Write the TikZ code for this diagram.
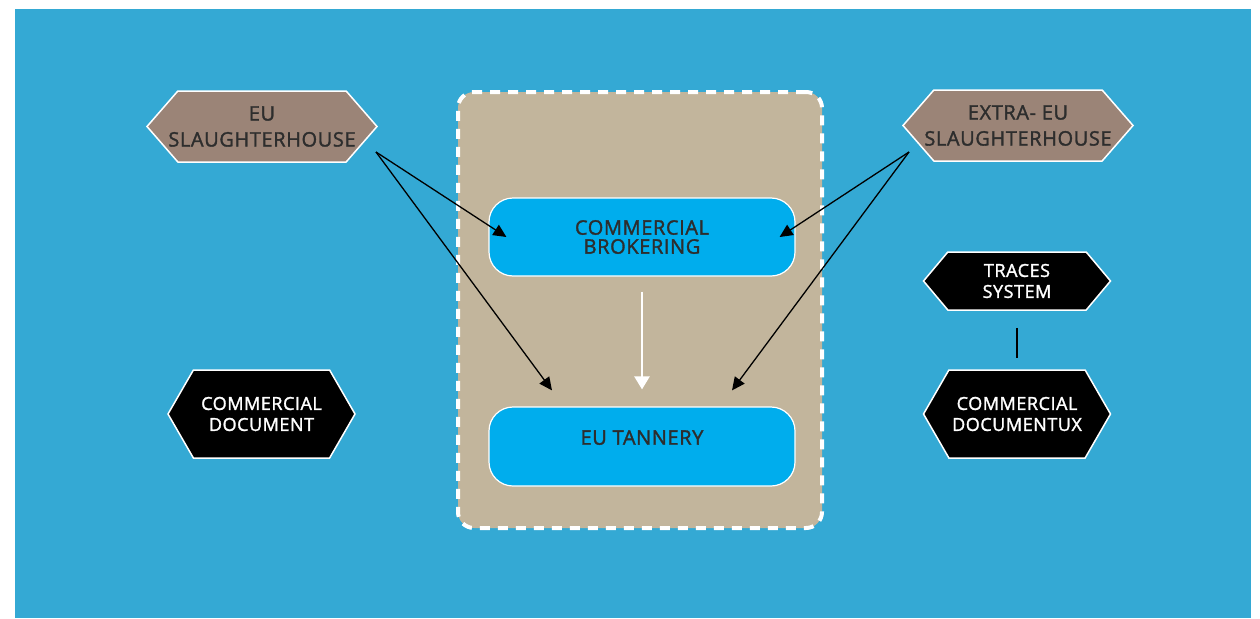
\documentclass[tikz,border=0pt]{standalone}
\usepackage{fontspec}
\setmainfont{Open Sans}
\newfontfamily\boxfont{Open Sans}[FakeBold=1.6, LetterSpace=3]
\usetikzlibrary{shapes.symbols,arrows.meta,positioning}
\definecolor{bgblue}{RGB}{52,169,212}
\definecolor{hide}{RGB}{155,132,119}
\definecolor{sand}{RGB}{194,181,156}
\definecolor{cyanbox}{RGB}{0,173,237}
\definecolor{ink}{RGB}{45,45,45}
\tikzstyle{every hex} = [signal, signal to=west and east, draw=white, line width=1.5pt, align=center, inner sep=0pt]
\tikzstyle{hexbrown} = [every hex, fill=hide, text=ink, inner xsep=-12pt, minimum width=230pt, minimum height=71pt, signal pointer angle=98, font=\boxfont\fontsize{20}{26}\selectfont]
\tikzstyle{hexblack} = [every hex, fill=black, text=white, minimum width=187pt, minimum height=88pt, signal pointer angle=120, font=\boxfont\fontsize{18}{21}\selectfont]
\tikzstyle{process} = [draw=white, line width=1.2pt, fill=cyanbox, rounded corners=24pt, minimum width=306pt, minimum height=78pt, align=center, text=ink, font=\boxfont\fontsize{20}{19}\selectfont]
\tikzstyle{link} = [draw, line width=1.3pt, -{Triangle[length=13pt,width=12pt]}]

\begin{document}
\begin{tikzpicture}[x=1pt,y=-1pt]

        % canvas
        \fill[white] (0,0) rectangle (1260,618);
        \fill[bgblue] (15,9) rectangle (1251,618);

        % broker zone
        \node[draw=white, fill=sand, line width=4pt, dash pattern=on 10pt off 8pt, rounded corners=16pt,
              minimum width=364pt, minimum height=436pt] (zone) at (640,310) {};

        \node[process] (brokering) at (642,237) {COMMERCIAL\\BROKERING};
        \node[process, minimum height=79pt, text depth=18pt] (tannery) at (642,446.5) {EU TANNERY};

        \node[hexbrown] (euslaughter) at (262,126.5) {EU\\SLAUGHTERHOUSE};
        \node[hexbrown] (extraeu) at (1018,125.5) {EXTRA- EU\\SLAUGHTERHOUSE};

        \node[hexblack] (commdoc) at (261.5,414) {COMMERCIAL\\DOCUMENT};
        \node[hexblack, minimum height=58pt, signal pointer angle=100] (traces) at (1017,281) {TRACES\\SYSTEM};
        \node[hexblack] (commdocux) at (1017,414) {COMMERCIAL\\DOCUMENTUX};

        \coordinate (eufork) at ([xshift=-2pt,yshift=-25.5pt]euslaughter.east);
        \coordinate (extrafork) at ([xshift=7pt,yshift=-26.5pt]extraeu.west);

        \draw[link] (eufork) -- ([xshift=18pt]brokering.west);
        \draw[link] (eufork) -- ([xshift=-90pt,yshift=16pt]tannery.north);
        \draw[link] (extrafork) -- ([xshift=-16pt]brokering.east);
        \draw[link] (extrafork) -- ([xshift=90pt,yshift=16pt]tannery.north);

        \draw[white, line width=2.5pt, -{Triangle[length=13pt,width=15pt]}] ([yshift=-15pt]brokering.south) -- ([yshift=17pt]tannery.north);
        \draw[line width=2.5pt] ([yshift=-17pt]traces.south) -- ([yshift=11pt]commdocux.north);

\end{tikzpicture}
\end{document}
